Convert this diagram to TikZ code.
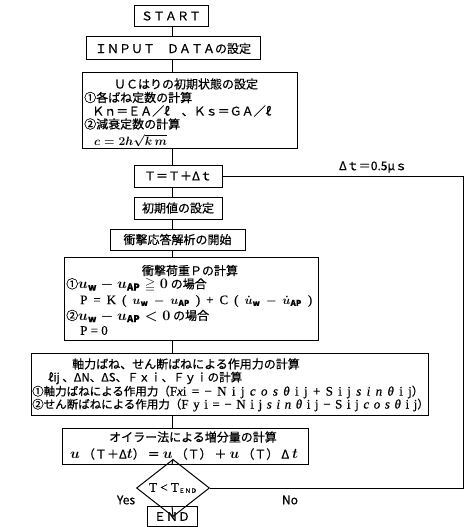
\documentclass[tikz,border=0pt]{standalone}
\usepackage{amsmath,amssymb}
\usepackage{fontspec}
\setmainfont{Noto Sans CJK JP}[FakeBold=0.5]
\newfontfamily\srf{Liberation Serif}[FakeBold=0.5]
\usetikzlibrary{shapes.geometric}
\newcommand{\fsz}{\fontsize{12}{14}\selectfont}
\newcommand{\fsm}{\fontsize{11.5}{13}\selectfont}
\newcommand{\mm}[1]{{\fontsize{13.5}{15}\selectfont\boldmath$#1$}}
\newcommand{\ms}[1]{{\fontsize{12}{14}\selectfont\boldmath$#1$}}
\begin{document}
\begin{tikzpicture}[x=1pt,y=-1pt,
  box/.style={draw,line width=1pt,inner sep=0pt,font=\fsz},
  ln/.style={line width=1pt},
  txt/.style={inner sep=0pt,anchor=west,font=\fsz},
  ctxt/.style={inner sep=0pt,font=\fsz},
  stxt/.style={inner sep=0pt,anchor=west,font=\fsm}]
\useasboundingbox (0,0) rectangle (465,527);
\coordinate (ax) at (172,0);
\coordinate (rr) at (463,0);
% boxes
\node[box,minimum width=74pt,minimum height=21pt] (start) at (171,16) {ＳＴＡＲＴ};
\node[box,minimum width=174pt,minimum height=23pt] (input) at (173,48.5) {ＩＮＰＵＴ　ＤＡＴＡの設定};
\node[box,minimum width=215pt,minimum height=76pt] (uc) at (189.5,110) {};
\node[ctxt] (uct) at (186,84) {ＵＣはりの初期状態の設定};
\node[txt] (uc1) at (84,97.5) {①各ばね定数の計算};
\node[txt] (uc2) at (92,111) {Ｋｎ＝ＥＡ／ℓ　、Ｋｓ＝ＧＡ／ℓ};
\node[txt] (uc3) at (84,124) {②減衰定数の計算};
\node[txt] (uc4) at (94,140.5) {\ms{c=2h\sqrt{k\,m}}};
\node[box,minimum width=88pt,minimum height=22pt] (tbox) at (178,176) {Ｔ＝Ｔ＋Δｔ};
\node[box,minimum width=88pt,minimum height=22pt] (init) at (178,208) {初期値の設定};
\node[box,minimum width=135pt,minimum height=21pt] (ana) at (177.5,239.5) {衝撃応答解析の開始};
\node[box,minimum width=254pt,minimum height=83pt] (pb) at (191,298.5) {};
\node[ctxt] (pt) at (190,270.5) {衝撃荷重Ｐの計算};
\node[txt] (p1) at (66,285) {①\mm{u_{\mathrm{w}}-u_{\mathrm{AP}}\geqq 0}\ の場合};
\node[txt] (p2) at (80,301) {\makebox[232pt][s]{\srf\fontsize{13}{15}\selectfont P = K ( \ms{u_{\mathrm{w}}-u_{\mathrm{AP}}} ) + C ( \ms{\dot u_{\mathrm{w}}-\dot u_{\mathrm{AP}}} )}};
\node[txt] (p3) at (66,316) {②\mm{u_{\mathrm{w}}-u_{\mathrm{AP}}<0}\ の場合};
\node[txt] (p4) at (80,330.5) {{\srf\fontsize{13}{15}\selectfont P = 0}};
\node[box,minimum width=397pt,minimum height=62pt] (ab) at (229.5,384) {};
\node[ctxt] (a0) at (186,364) {軸力ばね、せん断ばねによる作用力の計算};
\node[stxt] (a1) at (48,378) {ℓij 、ΔN、ΔS、Ｆｘｉ、Ｆｙｉの計算};
\node[stxt] (a2) at (32,392) {①軸力ばねによる作用力（\makebox[242pt][s]{\srf\fontsize{13}{15}\selectfont F\textit{x}i = − N i j \textit{c o s θ} i j + S i j \textit{s i n θ} i j}）};
\node[stxt] (a3) at (32,405) {②せん断ばねによる作用力（\makebox[236pt][s]{\srf\fontsize{13}{15}\selectfont F y i = − N i j \textit{s i n θ} i j − S i j \textit{c o s θ} i j}）};
\node[box,minimum width=246pt,minimum height=36pt] (eb) at (185,446) {};
\node[ctxt] (e0) at (193,437) {オイラー法による増分量の計算};
\node[txt] (e1) at (70,454) {\makebox[228pt][s]{\mm{u} （Ｔ＋Δ\mm{t}） ＝ \mm{u} （Ｔ） ＋ \mm{u} （Ｔ） Δ \mm{t}}};
\node[draw,line width=1pt,diamond,inner sep=0pt,minimum width=73pt,minimum height=34pt,font=\fsz] (dm) at (173,488) {{\srf\fontsize{13}{15}\selectfont T \textless\ T}\raisebox{-1pt}{\fontsize{6}{7}\selectfont ＥＮＤ}};
\node[box,minimum width=50pt,minimum height=20pt] (end) at (172,516.5) {ＥＮＤ};
% labels
\node[ctxt] (yes) at (126,500) {Yes};
\node[ctxt] (no) at (290,500) {No};
\node[ctxt] (dt) at (373,167) {Δｔ＝0.5μｓ};
% connectors
\draw[ln] (start.south -| ax) -- (input.north -| ax);
\draw[ln] (input.south -| ax) -- (uc.north -| ax);
\draw[ln] (uc.south -| ax) -- (tbox.north -| ax);
\draw[ln] (tbox.south -| ax) -- (init.north -| ax);
\draw[ln] (init.south -| ax) -- (ana.north -| ax);
\draw[ln] (ana.south -| ax) -- (pb.north -| ax);
\draw[ln] (pb.south -| ax) -- (ab.north -| ax);
\draw[ln] (ab.south -| ax) -- (eb.north -| ax);
\draw[ln] (eb.south -| ax) -- (dm.north);
\draw[ln] (dm.south) -- (end.north);
\draw[ln] (dm.east) -- (dm.east -| rr) -- (tbox.east -| rr) -- (tbox.east);
\end{tikzpicture}
\end{document}
